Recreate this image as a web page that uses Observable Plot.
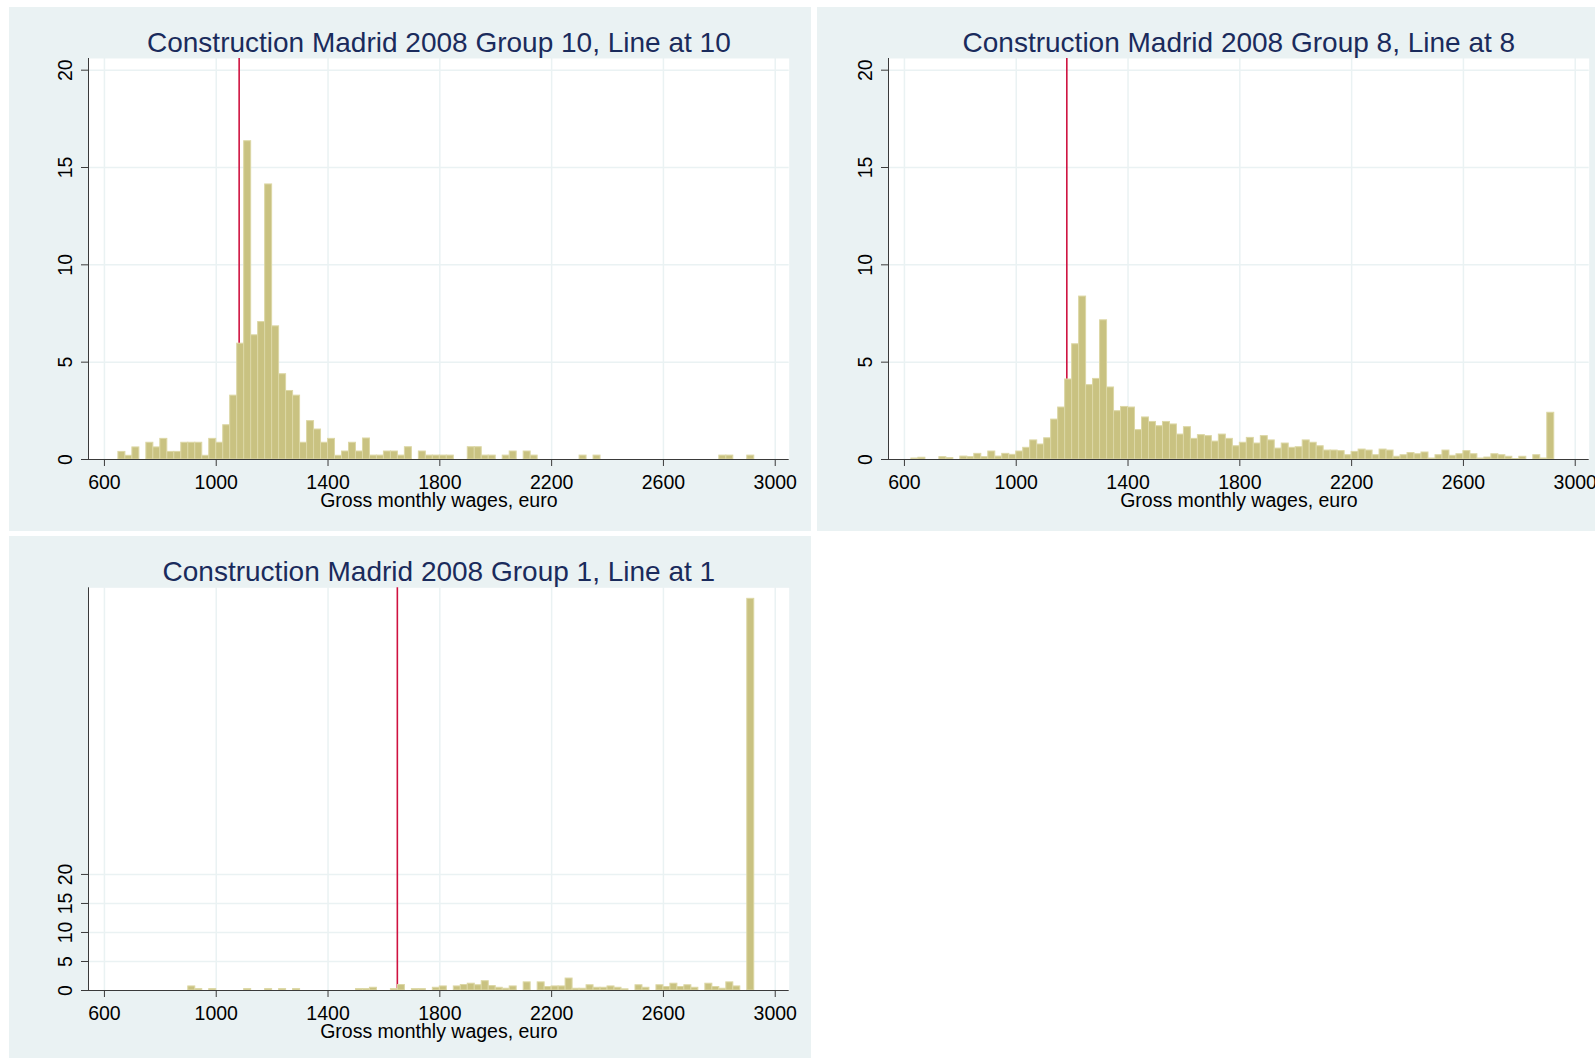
<!DOCTYPE html>
<html><head><meta charset="utf-8">
<script src="https://cdn.jsdelivr.net/npm/d3@7"></script>
<script src="https://cdn.jsdelivr.net/npm/@observablehq/plot@0.6"></script>
<style>
html,body{margin:0;padding:0;background:#fff;}
body{width:1595px;height:1058px;position:relative;overflow:hidden;font-family:"Liberation Sans",Arial,sans-serif;}
.panel{position:absolute;background:#eaf2f3;}
.panel svg{overflow:visible;display:block;}
</style></head><body>
<div id="p1" class="panel" style="left:9px;top:7px;width:802px;height:524px"></div>
<div id="p2" class="panel" style="left:817px;top:7px;width:778px;height:524px"></div>
<div id="p3" class="panel" style="left:9px;top:536px;width:802px;height:522px"></div>
<script>
// Histogram bins: lower edges (euro), width 25
const binWidth = 25;
const binStarts = [
  600,625,650,675, 700,725,750,775, 800,825,850,875, 900,925,950,975,
  1000,1025,1050,1075, 1100,1125,1150,1175, 1200,1225,1250,1275, 1300,1325,1350,1375,
  1400,1425,1450,1475, 1500,1525,1550,1575, 1600,1625,1650,1675, 1700,1725,1750,1775,
  1800,1825,1850,1875, 1900,1925,1950,1975, 2000,2025,2050,2075, 2100,2125,2150,2175,
  2200,2225,2250,2275, 2300,2325,2350,2375, 2400,2425,2450,2475, 2500,2525,2550,2575,
  2600,2625,2650,2675, 2700,2725,2750,2775, 2800,2825,2850,2875, 2900,2925,2950,2975
];
// Percent of workers per bin
const group10 = [
  0,0,0.39,0.19, 0.62,0,0.86,0.62, 1.06,0.39,0.39,0.86, 0.86,0.86,0.19,1.06,
  0.86,1.76,3.28,5.95, 16.35,6.38,7.06,14.13, 6.84,4.38,3.52,3.28, 0.86,1.97,1.54,0.86,
  1.06,0.19,0.41,0.86, 0.41,1.08,0.2,0.2, 0.41,0.41,0.2,0.63, 0,0.41,0.2,0.2,
  0.2,0.2,0,0, 0.63,0.63,0.2,0.2, 0,0.2,0.41,0, 0.41,0.2,0,0,
  0,0,0,0, 0.2,0,0.2,0, 0,0,0,0, 0,0,0,0,
  0,0,0,0, 0,0,0,0, 0.2,0.2,0,0, 0.2,0,0,0
];
const group8 = [
  0,0.05,0.09,0, 0,0.12,0.07,0, 0.15,0.12,0.29,0.12, 0.41,0.15,0.29,0.24,
  0.41,0.60,0.98,0.77, 1.09,2.05,2.67,4.11, 5.92,8.37,3.82,4.14, 7.15,3.70,2.48,2.70,
  2.67,1.51,2.16,1.93, 1.71,1.93,1.80,1.28, 1.66,1.06,1.25,1.20, 0.92,1.28,1.06,0.68,
  0.86,1.11,0.82,1.20, 0.98,0.56,0.82,0.60, 0.63,0.98,0.86,0.68, 0.46,0.46,0.43,0.22,
  0.39,0.51,0.46,0.22, 0.51,0.46,0.14,0.22, 0.33,0.27,0.36,0.05, 0.22,0.46,0.19,0.27,
  0.43,0.27,0.05,0.10, 0.27,0.22,0.14,0.02, 0.14,0,0.22,0.05, 2.40,0,0,0
];
const group1 = [
  0,0,0,0, 0,0,0,0, 0,0,0,0, 0.7,0.24,0,0.24,
  0,0,0,0, 0.24,0,0,0.24, 0,0.24,0,0.24, 0,0,0,0,
  0,0,0,0, 0.24,0.24,0.47,0, 0,0.24,0.94,0, 0.24,0.24,0,0.47,
  0.7,0,0.7,0.94, 1.17,0.9,1.6,0.76, 0.47,0.3,0.7,0, 1.4,0,1.4,0.6,
  0.7,0.7,2.06,0.3, 0.3,0.9,0.47,0.47, 0.7,0.47,0.2,0, 0.9,0.47,0,0.9,
  0.6,1.17,0.6,0.9, 0.47,0,1.17,0.6, 0.3,1.4,0.7,0, 67.5,0,0,0
];
const lineValues = [1082, 1181, 1648];
const titles = [
  "Construction Madrid 2008 Group 10, Line at 10",
  "Construction Madrid 2008 Group 8, Line at 8",
  "Construction Madrid 2008 Group 1, Line at 1"
];
const xTicks = [600, 1000, 1400, 1800, 2200, 2600, 3000];
const yTicks = [0, 5, 10, 15, 20];
const xLabel = "Gross monthly wages, euro";
const xDomain = [543, 3050];

const FONT = "'Liberation Sans', Arial, sans-serif";
const BAR_FILL = "#c9c281", BAR_STROKE = "#dcd7a5", GRID = "#eaf2f3", AXIS = "#3a3a3a";

function panel(values, line, title, o) {
  const data = binStarts.map((x, i) => ({x1: x, x2: x + binWidth, y: values[i]})).filter(d => d.y > 0);
  return Plot.plot({
    width: o.width, height: o.height,
    marginLeft: o.ml, marginRight: o.mr, marginTop: o.mt, marginBottom: o.mb,
    x: {domain: xDomain},
    y: {domain: [0, o.yMax]},
    style: {background: "none", fontFamily: FONT, color: "#000", overflow: "visible"},
    marks: [
      Plot.frame({fill: "white", stroke: null}),
      Plot.gridX(xTicks, {stroke: GRID, strokeOpacity: 1, strokeWidth: 1.5}),
      Plot.gridY(yTicks.filter(t => t > 0), {stroke: GRID, strokeOpacity: 1, strokeWidth: 1.5}),
      Plot.ruleX([line], {stroke: "#cf1240", strokeWidth: 1.6}),
      Plot.rectY(data, {x1: "x1", x2: "x2", y: "y", fill: BAR_FILL, stroke: BAR_STROKE, strokeWidth: 1}),
      Plot.ruleX([xDomain[0]], {stroke: AXIS, strokeWidth: 1}),
      Plot.ruleY([0], {stroke: AXIS, strokeWidth: 1}),
      Plot.axisX(xTicks, {tickSize: 7, tickPadding: 9, fontSize: 19.5, label: null, stroke: AXIS,
        tickFormat: d => String(d)}),
      Plot.axisY(yTicks, {tickSize: 7, tickFormat: () => "", label: null, stroke: AXIS}),
      Plot.text(yTicks, {frameAnchor: "left", y: d => d, text: d => String(d), rotate: -90, dx: -17,
        textAnchor: "middle", lineAnchor: "bottom", fontSize: 19.5, fill: "#000"}),
      Plot.text([title], {frameAnchor: "top", dy: -7, lineAnchor: "bottom", fontSize: 28, fill: "#1a2b5c"}),
      Plot.text([xLabel], {frameAnchor: "bottom", dy: 47, lineAnchor: "bottom", fontSize: 19.5, fill: "#000"})
    ]
  });
}

const plotW = 700.7;
document.getElementById("p1").appendChild(panel(group10, lineValues[0], titles[0],
  {width: 802, height: 524, ml: 79, mr: 802 - 79 - plotW, mt: 51, mb: 72, yMax: 20.6}));
document.getElementById("p2").appendChild(panel(group8, lineValues[1], titles[1],
  {width: 778, height: 524, ml: 71, mr: 778 - 71 - plotW, mt: 51, mb: 72, yMax: 20.6}));
document.getElementById("p3").appendChild(panel(group1, lineValues[2], titles[2],
  {width: 802, height: 522, ml: 79, mr: 802 - 79 - plotW, mt: 51.3, mb: 68, yMax: 69.4}));
</script>
</body></html>
